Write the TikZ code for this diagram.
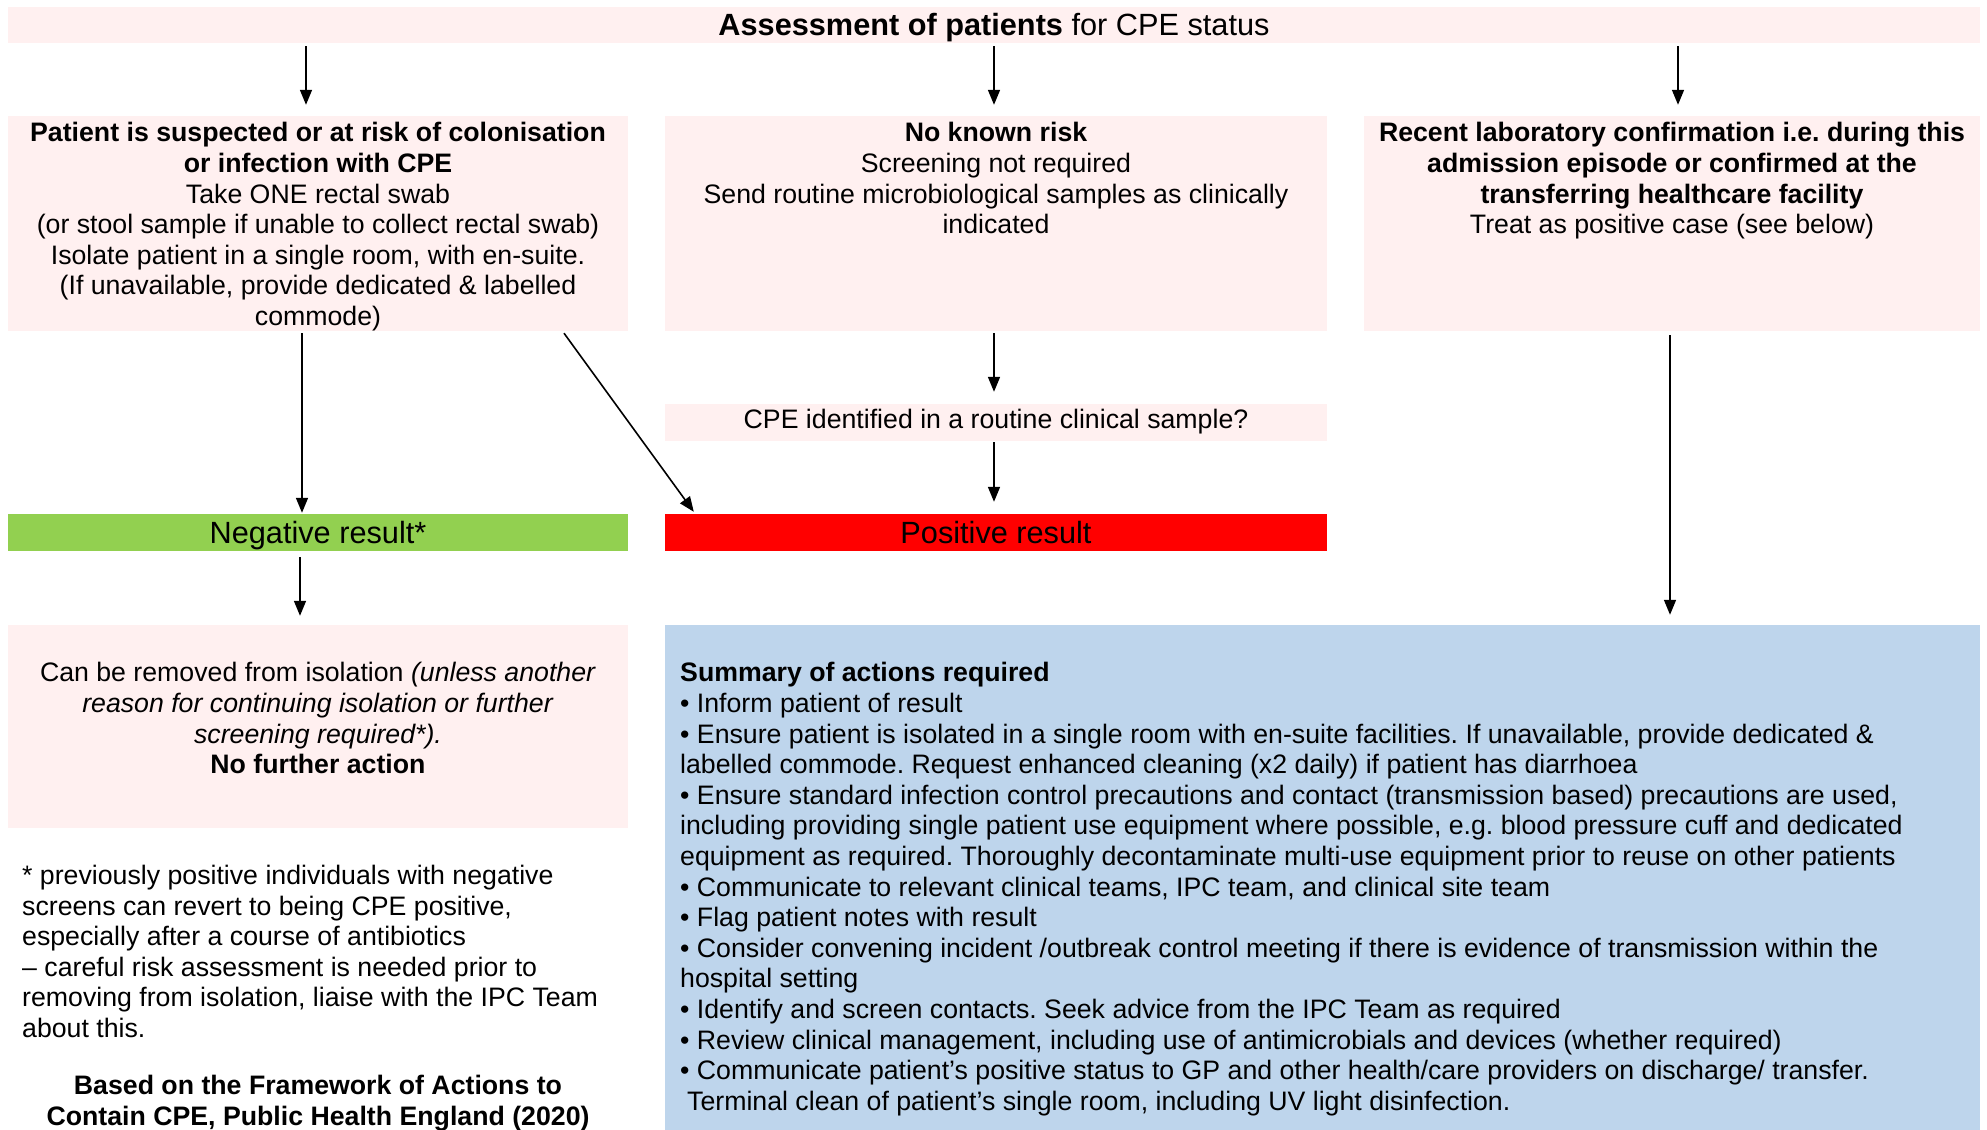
\documentclass[tikz,border=0pt]{standalone}
\usepackage{fontspec}
\setmainfont{Liberation Sans}
\usetikzlibrary{arrows.meta,calc}
\definecolor{pinkbg}{RGB}{255,240,240}
\definecolor{greenbar}{RGB}{146,208,80}
\definecolor{redbar}{RGB}{255,0,0}
\definecolor{bluebg}{RGB}{190,213,236}
\newcommand\bodyfont{\fontsize{26.7}{30.6}\selectfont}
\newcommand\bigfont{\fontsize{30.7}{35}\selectfont}
\begin{document}
\frenchspacing
\begin{tikzpicture}[x=1pt,y=-1pt,
  panel/.style={draw=none,inner sep=0pt,fill=pinkbg},
  txt/.style={inner sep=0pt,font=\bodyfont,align=center},
  bigtxt/.style={inner sep=0pt,font=\bigfont},
  arr/.style={-{Triangle[length=15pt,width=12pt]},line width=1.6pt}]
\useasboundingbox (0,0) rectangle (1987,1130);

% boxes
\node[panel,minimum width=1972pt,minimum height=36pt] (top) at (994,25) {};
\node[panel,minimum width=620pt,minimum height=215pt] (L) at (318,223.5) {};
\node[panel,minimum width=662pt,minimum height=215pt] (M) at (996,223.5) {};
\node[panel,minimum width=616pt,minimum height=215pt] (R) at (1672,223.5) {};
\node[panel,minimum width=662pt,minimum height=37pt] (CPE) at (996,422.5) {};
\node[panel,fill=greenbar,minimum width=620pt,minimum height=37pt] (Neg) at (318,532.5) {};
\node[panel,fill=redbar,minimum width=662pt,minimum height=37pt] (Pos) at (996,532.5) {};
\node[panel,minimum width=620pt,minimum height=203pt] (C) at (318,726.5) {};
\node[panel,fill=bluebg,minimum width=1315pt,minimum height=515pt] (S) at (1322.5,882.5) {};

% texts
\node[bigtxt,anchor=base] (title) at (994,35.5) {\textbf{Assessment of patients} for CPE status};
\node[txt,anchor=north] (Lt) at (318,120.3) {\strut\textbf{Patient is suspected or at risk of colonisation}\\\textbf{or infection with CPE}\\Take ONE rectal swab\\(or stool sample if unable to collect rectal swab)\\Isolate patient in a single room, with en-suite.\\(If unavailable, provide dedicated \& labelled\\commode)};
\node[txt,anchor=north] (Mt) at (996,120.3) {\strut\textbf{No known risk}\\Screening not required\\Send routine microbiological samples as clinically\\indicated};
\node[txt,anchor=north] (Rt) at (1672,120.3) {\strut\textbf{Recent laboratory confirmation i.e. during this}\\\textbf{admission episode or confirmed at the}\\\textbf{transferring healthcare facility}\\Treat as positive case (see below)};
\node[txt,anchor=base] (CPEt) at (996,428) {CPE identified in a routine clinical sample?};
\node[bigtxt,anchor=base] (Negt) at (318,543) {Negative result*};
\node[bigtxt,anchor=base] (Post) at (996,543) {Positive result};
\node[txt,anchor=north] (Ct) at (318,660.3) {\strut Can be removed from isolation \textit{(unless another}\\\textit{reason for continuing isolation or further}\\\textit{screening required*).}\\\textbf{No further action}};
\node[txt,align=left,anchor=north west] (St) at (680,660.3) {\strut\textbf{Summary of actions required}\\
• Inform patient of result\\
• Ensure patient is isolated in a single room with en-suite facilities. If unavailable, provide dedicated \&\\
labelled commode. Request enhanced cleaning (x2 daily) if patient has diarrhoea\\
• Ensure standard infection control precautions and contact (transmission based) precautions are used,\\
including providing single patient use equipment where possible, e.g. blood pressure cuff and dedicated\\
equipment as required. Thoroughly decontaminate multi-use equipment prior to reuse on other patients\\
• Communicate to relevant clinical teams, IPC team, and clinical site team\\
• Flag patient notes with result\\
• Consider convening incident /outbreak control meeting if there is evidence of transmission within the\\
hospital setting\\
• Identify and screen contacts. Seek advice from the IPC Team as required\\
• Review clinical management, including use of antimicrobials and devices (whether required)\\
• Communicate patient’s positive status to GP and other health/care providers on discharge/ transfer.\\
\hspace*{7pt}Terminal clean of patient’s single room, including UV light disinfection.};
\node[txt,align=left,anchor=north west] (foot) at (22,862.8) {\strut * previously positive individuals with negative\\screens can revert to being CPE positive,\\especially after a course of antibiotics\\– careful risk assessment is needed prior to\\removing from isolation, liaise with the IPC Team\\about this.};
\node[txt,font=\bodyfont\bfseries,anchor=north] (based) at (318,1073) {\strut Based on the Framework of Actions to\\Contain CPE, Public Health England (2020)};

% connectors
\draw[arr] ($(top.south -| L.north)+(-12,3)$) -- ($(L.north)+(-12,-11)$);
\draw[arr] ($(top.south -| M.north)+(-2,3)$) -- ($(M.north)+(-2,-11)$);
\draw[arr] ($(top.south -| R.north)+(6,3)$) -- ($(R.north)+(6,-11)$);
\draw[arr] ($(L.south)+(-16,2)$) -- ($(Neg.north)+(-16,-1)$);
\draw[arr] ($(L.south)+(246,2)$) -- ($(Pos.north west)+(29,-2)$);
\draw[arr] ($(M.south)+(-2,2)$) -- ($(CPE.north)+(-2,-12)$);
\draw[arr] ($(CPE.south)+(-2,1)$) -- ($(Pos.north)+(-2,-12)$);
\draw[arr] ($(Neg.south)+(-18,6)$) -- ($(C.north)+(-18,-9)$);
\draw[arr] ($(R.south)+(-2,4)$) -- ($(S.north -| R.south)+(-2,-10)$);
\end{tikzpicture}
\end{document}
